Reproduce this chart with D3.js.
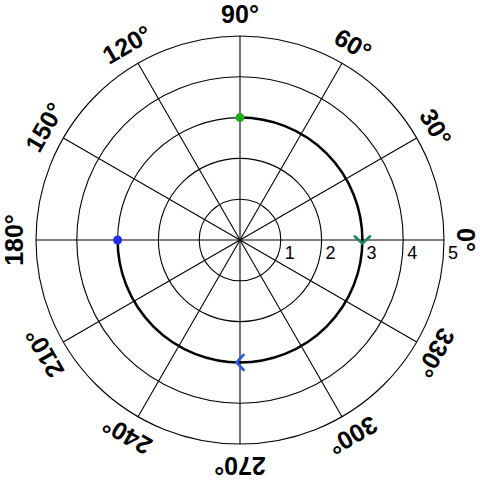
<!DOCTYPE html>
<html>
<head>
<meta charset="utf-8">
<script src="https://cdn.jsdelivr.net/npm/d3@7"></script>
<style>
  html, body { margin: 0; padding: 0; background: #fff; }
  svg { display: block; }
</style>
</head>
<body>
<svg id="chart" width="480" height="480"></svg>
<script>
// ---- data ----
const radialTicks = [1, 2, 3, 4, 5];
const radialMax = 5;
const angleTicks = [0, 30, 60, 90, 120, 150, 180, 210, 240, 270, 300, 330];
const angleLabels = ["0°", "30°", "60°", "90°", "120°", "150°", "180°", "210°", "240°", "270°", "300°", "330°"];
// trajectory: constant radius arc travelled clockwise from 90° to 180° (i.e. -180°)
const pathRadius = 3;
const pathStartAngle = 90;
const pathEndAngle = -180;
// endpoints
const pointAngles = [90, 180];
const pointRadii = [3, 3];
const pointColors = ["#22aa22", "#2a2af0"];
// direction arrows along the path
const arrowAngles = [0, 270];
const arrowRadii = [3, 3];
const arrowColors = ["#1e8a5c", "#2a5ad6"];

// ---- layout ----
const cx = 240, cy = 240, R = 204;
const svg = d3.select("#chart");
const g = svg.append("g").attr("transform", `translate(${cx},${cy})`);
const r = d3.scaleLinear().domain([0, radialMax]).range([0, R]);
const rad = d => d * Math.PI / 180;
const px = (a, rr) => rr * Math.cos(rad(a));
const py = (a, rr) => -rr * Math.sin(rad(a));

// grid circles
g.selectAll("circle.grid").data(radialTicks).join("circle")
  .attr("class", "grid")
  .attr("r", d => r(d))
  .attr("fill", "none").attr("stroke", "#000").attr("stroke-width", 1.1);

// spokes
g.selectAll("line.spoke").data(angleTicks).join("line")
  .attr("x1", 0).attr("y1", 0)
  .attr("x2", d => px(d, R)).attr("y2", d => py(d, R))
  .attr("stroke", "#000").attr("stroke-width", 1.1);

// radial tick labels
g.selectAll("text.rlab").data(radialTicks).join("text")
  .attr("x", d => r(d) + 4).attr("y", 19)
  .attr("font-family", "Liberation Sans, Arial, sans-serif")
  .attr("font-size", 18).attr("fill", "#000")
  .text(d => d);

// angle labels
const labR = 226;
g.selectAll("text.alab").data(angleTicks).join("text")
  .attr("transform", (d) => `translate(${px(d, labR)},${py(d, labR)}) rotate(${90 - d})`)
  .attr("text-anchor", "middle").attr("dominant-baseline", "central")
  .attr("font-family", "Liberation Sans, Arial, sans-serif")
  .attr("font-weight", "bold").attr("font-size", 25).attr("fill", "#000")
  .text((d, i) => angleLabels[i]);

// trajectory arc (SVG angle convention: clockwise, y down)
const p = d3.path();
const toSvg = a => -rad(a);
p.arc(0, 0, r(pathRadius), toSvg(pathStartAngle), toSvg(pathEndAngle), false);
g.append("path").attr("d", p.toString())
  .attr("fill", "none").attr("stroke", "#000").attr("stroke-width", 2.5);

// arrows (chevrons pointing in clockwise direction of travel)
const aLen = 7, aHalf = 7.5;
arrowAngles.forEach((a, i) => {
  const x0 = px(a, r(arrowRadii[i])), y0 = py(a, r(arrowRadii[i]));
  const tx = Math.sin(rad(a)), ty = Math.cos(rad(a));
  const nx = -ty, ny = tx;
  const tip = [x0 + tx * aLen / 2, y0 + ty * aLen / 2];
  const b1 = [x0 - tx * aLen / 2 + nx * aHalf, y0 - ty * aLen / 2 + ny * aHalf];
  const b2 = [x0 - tx * aLen / 2 - nx * aHalf, y0 - ty * aLen / 2 - ny * aHalf];
  g.append("path").attr("d", d3.line()([b1, tip, b2]))
    .attr("fill", "none").attr("stroke", arrowColors[i])
    .attr("stroke-width", 2.8).attr("stroke-linecap", "round").attr("stroke-linejoin", "round");
});

// endpoints
g.selectAll("circle.pt").data(pointAngles).join("circle")
  .attr("class", "pt")
  .attr("cx", (d, i) => px(d, r(pointRadii[i])))
  .attr("cy", (d, i) => py(d, r(pointRadii[i])))
  .attr("r", 4.5)
  .attr("fill", (d, i) => pointColors[i]);
</script>
</body>
</html>
